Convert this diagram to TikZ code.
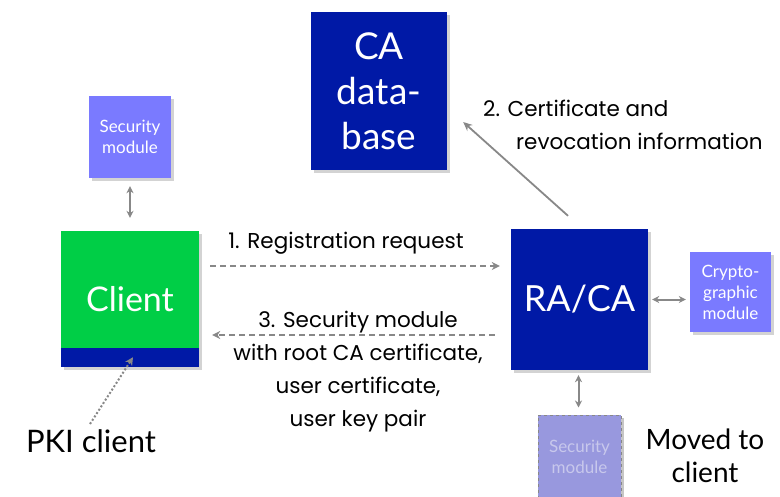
\documentclass[tikz,border=0pt]{standalone}
\usepackage{fontspec}
\setmainfont{Lato}
\newfontfamily\lblfont{Poppins}
\usetikzlibrary{arrows.meta, shadows}

\definecolor{cablue}{RGB}{0,25,166}
\definecolor{clgreen}{RGB}{0,206,70}
\definecolor{modblue}{RGB}{122,122,255}
\definecolor{fadeblue}{RGB}{152,152,222}
\definecolor{fadetext}{RGB}{200,200,236}
\definecolor{arrgray}{RGB}{136,136,136}

\begin{document}
\begin{tikzpicture}[x=1pt, y=-1pt,
    bigbox/.style={fill=cablue, text=white, inner sep=0pt, align=center,
      drop shadow={shadow xshift=3pt, shadow yshift=-3pt, opacity=0.35}},
    modbox/.style={fill=modblue, text=white, inner sep=0pt, align=center,
      minimum width=82, minimum height=82,
      font=\fontsize{17}{21}\selectfont,
      drop shadow={shadow xshift=3pt, shadow yshift=-3pt, opacity=0.35}},
    dbl/.style={{Stealth[length=7pt,width=7pt]}-{Stealth[length=7pt,width=7pt]}, arrgray, line width=2pt},
    msg/.style={-{Stealth[length=8pt,width=8pt]}, arrgray, line width=1.6pt, dash pattern=on 6pt off 4pt},
    label/.style={inner sep=0pt, font=\lblfont\fontsize{21.5}{33}\selectfont}]
    \useasboundingbox (0,0) rectangle (780,496);

    % ---------- boxes ----------
    \node[bigbox, minimum width=136, minimum height=158, font=\fontsize{37}{45}\selectfont]
      (cadb) at (379,91) {CA\\data-\\base};
    \node[modbox] (sectop) at (130,137) {Security\\module};
    \node[bigbox, fill=clgreen, minimum width=138, minimum height=136, font=\fontsize{34}{36}\selectfont]
      (client) at (130,299) {Client};
    % blue band of the client
    \fill[cablue] (client.south west) rectangle ([shift={(0,-19)}]client.south east);
    \node[bigbox, minimum width=137, minimum height=141, font=\fontsize{36}{36}\selectfont]
      (raca) at (579.5,299.5) {RA/CA};
    \node[modbox, minimum width=81, minimum height=80] (crypto) at (730.5,292) {Crypto-\\graphic\\module};
    \node[modbox, fill=fadeblue, text=fadetext, draw=arrgray, dashed, line width=1pt,
      minimum width=83, minimum height=83,
      drop shadow={shadow xshift=3pt, shadow yshift=-3pt, opacity=0.15}]
      (secbot) at (579.5,456.5) {Security\\module};

    % ---------- links to the modules ----------
    \draw[dbl] ([shift={(0,8)}]sectop.south) -- ([shift={(0,-13)}]client.north);
    \draw[dbl] ([shift={(4,0)}]raca.east) -- ([shift={(-4,0)}]raca.east -| crypto.west);
    \draw[dbl] ([shift={(-1,5)}]raca.south) -- ([shift={(-1,-7)}]secbot.north);

    % ---------- messages ----------
    \draw[msg] ([shift={(11,-33)}]client.east) -- ([shift={(-11,-33.5)}]raca.west);
    \node[label] (reglab) at (346,243) {1. Registration request};

    \draw[arrgray, line width=1.8pt, -{Stealth[length=9pt,width=8pt]}]
      ([shift={(-11.5,-13)}]raca.north) -- ([shift={(16,31)}]cadb.east);
    \node[label, anchor=west] (revlab) at (483,108) {2. Certificate and};
    \node[label, anchor=west] (revlabb) at (516,141) {revocation information};

    \draw[msg] ([shift={(-16,35.5)}]raca.west) -- ([shift={(13,36)}]client.east);
    \node[label, align=center] (smlab) at (358,372) {3. Security module\\with root CA certificate,\\user certificate,\\user key pair};

    % ---------- notes ----------
    \node[label, font=\fontsize{31}{33}\selectfont] (pki) at (91,441) {PKI client};
    \draw[arrgray, line width=2pt, dotted, -{Stealth[length=8pt,width=8pt]}]
      ([shift={(-1,-17)}]pki.center) -- ([shift={(3,-10)}]client.south);
    \node[label, align=center, font=\fontsize{28}{33}\selectfont] (moved) at (705,456) {Moved to\\client};
  \end{tikzpicture}
\end{document}
